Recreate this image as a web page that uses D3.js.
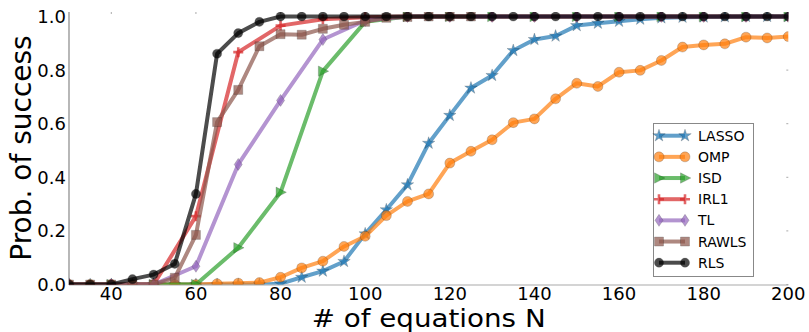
<!DOCTYPE html>
<html>
<head>
<meta charset="utf-8">
<script src="https://cdn.jsdelivr.net/npm/d3@7"></script>
<style>
  html, body { margin: 0; padding: 0; background: #fff; }
  svg { display: block; font-family: "DejaVu Sans", sans-serif; }
</style>
</head>
<body>
<svg id="chart" width="809" height="332"></svg>
<script>
// Sample grids (number of equations N)
const nStep5 = [30, 35, 40, 45, 50, 55, 60, 65, 70, 75, 80, 85, 90, 95, 100, 105, 110, 115,
  120, 125, 130, 135, 140, 145, 150, 155, 160, 165, 170, 175, 180, 185, 190, 195, 200];
const nStep10 = [30, 40, 50, 60, 70, 80, 90, 100, 110, 120, 130, 140, 150, 160, 170, 180, 190, 200];
const nRawls = [30, 35, 40, 45, 50, 55, 60, 65, 70, 75, 80, 85, 90, 95, 100, 105, 110, 115, 120, 125];

// Probability of success per method
const lasso = [0, 0, 0, 0, 0, 0, 0, 0, 0, 0, 0.003, 0.027, 0.05, 0.086, 0.189, 0.279, 0.372, 0.527,
  0.631, 0.733, 0.78, 0.873, 0.914, 0.927, 0.966, 0.975, 0.982, 0.99, 0.995, 0.997, 0.998, 0.999, 1, 1, 1];
const omp = [0, 0, 0, 0, 0, 0, 0, 0.003, 0.005, 0.007, 0.027, 0.062, 0.087, 0.142, 0.18, 0.257, 0.31, 0.338,
  0.453, 0.497, 0.54, 0.604, 0.618, 0.693, 0.751, 0.739, 0.792, 0.799, 0.836, 0.886, 0.894, 0.898, 0.923, 0.92, 0.925];
const isd = [0, 0, 0, 0, 0.137, 0.344, 0.796, 0.98, 1, 1, 1, 1, 1, 1, 1, 1, 1, 1];
const irl1 = [0, 0, 0, 0.255, 0.867, 0.966, 0.99, 0.997, 1, 1, 1, 1, 1, 1, 1, 1, 1, 1];
const tl = [0, 0, 0, 0.068, 0.448, 0.687, 0.914, 0.985, 1, 1, 1, 1, 1, 1, 1, 1, 1, 1];
const rawls = [0, 0, 0, 0, 0, 0.025, 0.185, 0.606, 0.726, 0.889, 0.934, 0.932, 0.954, 0.969, 0.98,
  0.995, 0.998, 1, 1, 1];
const rls = [0, 0, 0, 0.02, 0.037, 0.077, 0.338, 0.861, 0.938, 0.98, 1, 1, 1, 1, 1, 1, 1, 1,
  1, 1, 1, 1, 1, 1, 1, 1, 1, 1, 1, 1, 1, 1, 1, 1, 1];

const xTicks = [40, 60, 80, 100, 120, 140, 160, 180, 200];
const yTicks = [0, 0.2, 0.4, 0.6, 0.8, 1.0];

const methods = [
  { name: "LASSO", xs: nStep5, ys: lasso, color: "#1f77b4", marker: "star" },
  { name: "OMP", xs: nStep5, ys: omp, color: "#ff7f0e", marker: "circle" },
  { name: "ISD", xs: nStep10, ys: isd, color: "#2ca02c", marker: "triangleRight" },
  { name: "IRL1", xs: nStep10, ys: irl1, color: "#d62728", marker: "plus" },
  { name: "TL", xs: nStep10, ys: tl, color: "#9467bd", marker: "thinDiamond" },
  { name: "RAWLS", xs: nRawls, ys: rawls, color: "#8c564b", marker: "square" },
  { name: "RLS", xs: nStep5, ys: rls, color: "#000000", marker: "dot" }
];

const svg = d3.select("#chart");
const plot = { left: 69, right: 788.3, top: 12, bottom: 284.5 };

const x = d3.scaleLinear().domain([30, 200]).range([plot.left, plot.right]);
const y = d3.scaleLinear().domain([0, 1]).range([plot.bottom, 16.5]);

const ALPHA = 0.7;

// Marker path generators, centred on the origin
function markerPath(kind) {
  switch (kind) {
    case "star": return d3.symbol(d3.symbolStar, 48)();
    case "circle": return d3.symbol(d3.symbolCircle, Math.PI * 5 * 5)();
    case "dot": return d3.symbol(d3.symbolCircle, Math.PI * 4.6 * 4.6)();
    case "square": return "M-4.5,-4.5H4.5V4.5H-4.5Z";
    case "triangleRight": return "M-4.5,-5.2L5.8,0L-4.5,5.2Z";
    case "thinDiamond": return "M0,-6L4,0L0,6L-4,0Z";
    case "plus": return "M-5,0H5M0,-5V5";
  }
}

function drawMarker(g, kind, color) {
  const p = g.append("path").attr("d", markerPath(kind)).attr("opacity", ALPHA);
  if (kind === "plus") {
    p.attr("fill", "none").attr("stroke", color).attr("stroke-width", 2.6);
  } else {
    p.attr("fill", color).attr("stroke", "#000").attr("stroke-width", 0.5).attr("stroke-opacity", 0.5);
  }
  return p;
}

// Clip region for the data area
svg.append("defs").append("clipPath").attr("id", "plotClip")
  .append("rect")
  .attr("x", plot.left).attr("y", plot.top)
  .attr("width", plot.right - plot.left).attr("height", plot.bottom - plot.top);

// Faint tick marks on top and right edges
const edges = svg.append("g").attr("stroke", "#aaa").attr("stroke-width", 1);
xTicks.forEach(t => {
  edges.append("line").attr("x1", x(t)).attr("x2", x(t)).attr("y1", plot.top).attr("y2", plot.top + 2);
});
yTicks.forEach(t => {
  edges.append("line").attr("x1", plot.right - 2).attr("x2", plot.right).attr("y1", y(t)).attr("y2", y(t));
});

// Axes spines
svg.append("line").attr("x1", plot.left).attr("x2", plot.left).attr("y1", plot.top).attr("y2", plot.bottom + 0.5)
  .attr("stroke", "#888").attr("stroke-width", 1.2);
svg.append("line").attr("x1", plot.left).attr("x2", plot.right).attr("y1", plot.bottom + 0.5).attr("y2", plot.bottom + 0.5)
  .attr("stroke", "#aaa").attr("stroke-width", 1.2);

// Series
const data = svg.append("g").attr("clip-path", "url(#plotClip)");
const line = d3.line().x(d => x(d[0])).y(d => y(d[1]));

methods.forEach(m => {
  const pts = m.xs.map((n, i) => [n, m.ys[i]]);
  const g = data.append("g");
  g.append("path").datum(pts)
    .attr("d", line)
    .attr("fill", "none")
    .attr("stroke", m.color)
    .attr("stroke-width", 4)
    .attr("stroke-linejoin", "round")
    .attr("opacity", ALPHA);
  pts.forEach(p => {
    const mg = g.append("g").attr("transform", `translate(${x(p[0])},${y(p[1])})`);
    drawMarker(mg, m.marker, m.color);
  });
});

// Tick labels
svg.append("g").selectAll("text").data(yTicks).join("text")
  .attr("x", 66).attr("y", d => y(d)).attr("dy", "0.36em")
  .attr("text-anchor", "end").attr("font-size", 18).attr("fill", "#000")
  .text(d => d.toFixed(1));

svg.append("g").selectAll("text").data(xTicks).join("text")
  .attr("x", d => x(d)).attr("y", 300)
  .attr("text-anchor", "middle").attr("font-size", 18).attr("fill", "#000")
  .text(d => d);

// Axis titles
svg.append("text")
  .attr("transform", "translate(31,148) rotate(-90)")
  .attr("text-anchor", "middle").attr("font-size", 28).attr("fill", "#000")
  .text("Prob. of success");

svg.append("text")
  .attr("x", (plot.left + plot.right) / 2).attr("y", 327)
  .attr("text-anchor", "middle").attr("font-size", 24).attr("fill", "#000")
  .attr("textLength", 234).attr("lengthAdjust", "spacingAndGlyphs")
  .text("# of equations N");

// Legend
const legend = svg.append("g");
legend.append("rect")
  .attr("x", 653.5).attr("y", 123.5).attr("width", 100).attr("height", 153)
  .attr("fill", "#fff").attr("stroke", "#888").attr("stroke-width", 1);

const rowY = d3.scaleLinear().domain([0, methods.length - 1]).range([135.7, 262.7]);
methods.forEach((m, i) => {
  const ry = rowY(i);
  const row = legend.append("g");
  row.append("line").attr("x1", 659).attr("x2", 685).attr("y1", ry).attr("y2", ry)
    .attr("stroke", m.color).attr("stroke-width", 4).attr("opacity", ALPHA);
  [659, 685].forEach(px => {
    const mg = row.append("g").attr("transform", `translate(${px},${ry})`);
    drawMarker(mg, m.marker, m.color);
  });
  row.append("text").attr("x", 698).attr("y", ry).attr("dy", "0.36em")
    .attr("font-size", 14).attr("fill", "#000").text(m.name);
});
</script>
</body>
</html>
